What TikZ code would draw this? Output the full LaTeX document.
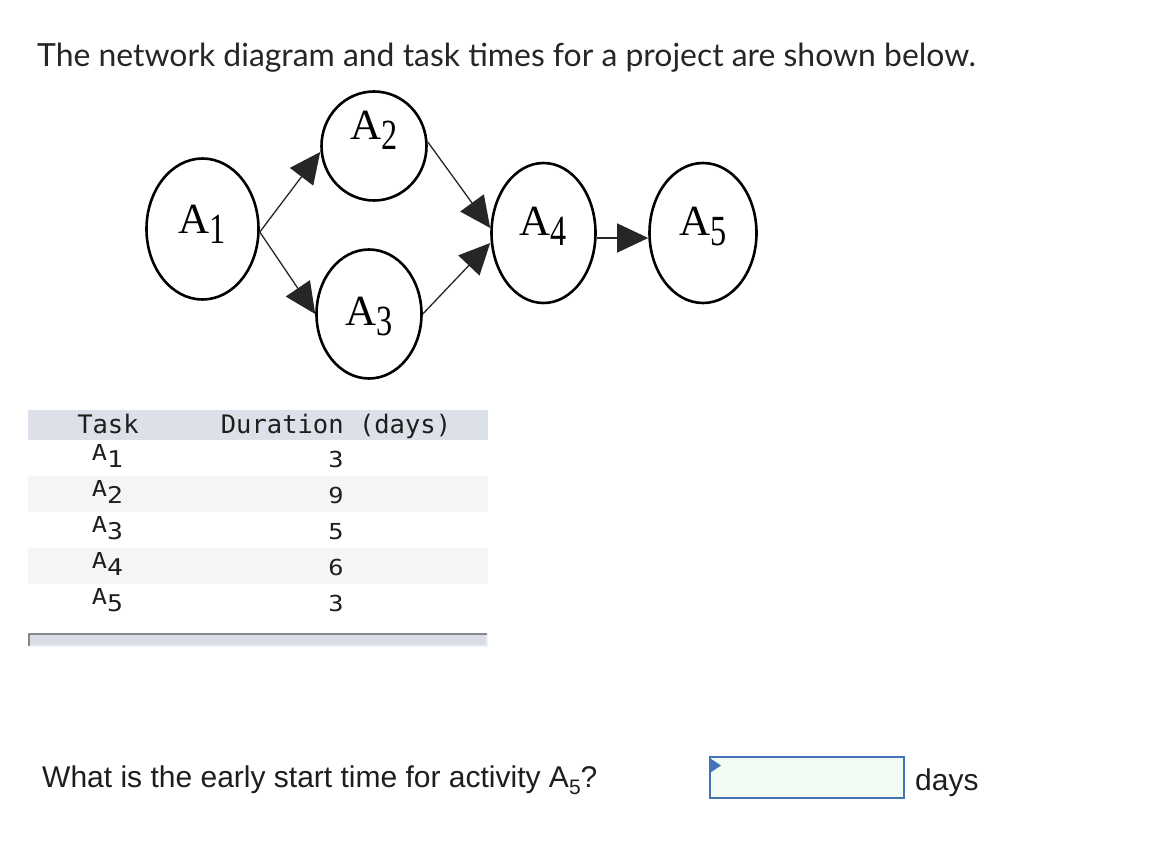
\documentclass[tikz,border=0pt]{standalone}
\usepackage{fontspec}
\usepackage{graphicx}
\setmainfont{Liberation Sans}
\newfontfamily\titlefont{Lato}
\newfontfamily\serifnode{Liberation Serif}
\newfontfamily\tabmono{DejaVu Sans Mono}
\usetikzlibrary{shapes.geometric,arrows.meta}
\definecolor{hdrband}{HTML}{DCE0E8}
\definecolor{rowband}{HTML}{F5F5F5}
\definecolor{barfill}{HTML}{D8DCE4}
\definecolor{barline}{HTML}{86888C}
\definecolor{baredge}{HTML}{ECEFFA}
\definecolor{ansblue}{HTML}{4672B9}
\definecolor{ansfill}{HTML}{F1FBF1}
\definecolor{txtdark}{HTML}{1E1E1E}
\newcommand\evsub[1]{\raisebox{-10pt}{\scalebox{0.75}[1]{#1}}}
\newcommand\tabtxt[1]{\scalebox{1.15}[1]{#1}}
\newcommand\tabsub[1]{\raisebox{-7pt}{\fontsize{23}{24}\selectfont #1}}
\tikzset{
  evt/.style={ellipse, draw=black, line width=2.6pt, inner sep=0pt,
    text height=0pt, text depth=0pt,
    font=\serifnode\fontsize{43}{43}\selectfont},
  flow/.style={draw=black!85, line width=1.3pt,
    -{Triangle[length=31pt,width=29pt]}},
  tabhead/.style={anchor=base, inner sep=0pt, text=txtdark,
    font=\tabmono\fontsize{25.5}{30}\selectfont},
  tabcell/.style={anchor=base, inner sep=0pt, text=txtdark,
    font=\tabmono\fontsize{22}{24}\selectfont},
  prose/.style={anchor=base west, inner sep=0pt, text=txtdark,
    font=\fontsize{30}{36}\selectfont},
}
\begin{document}
\begin{tikzpicture}[x=1pt,y=-1pt]
\useasboundingbox (0,0) rectangle (1154,856);
\fill[white] (0,0) rectangle (1154,856);

% title
\node[prose, font=\titlefont\fontsize{31.9}{38}\selectfont, text=black!85] (title) at (37,67)
  {The network diagram and task times for a project are shown below.};

% network
\node[evt, minimum width=112pt, minimum height=141pt] (a1) at (202.5,229) {\raisebox{-4pt}{A\evsub{1}}};
\node[evt, minimum width=105pt, minimum height=109pt] (a2) at (374,146) {\raisebox{6pt}{A\evsub{2}}};
\node[evt, minimum width=105pt, minimum height=129pt] (a3) at (369,314) {\raisebox{-11pt}{A\evsub{3}}};
\node[evt, minimum width=104pt, minimum height=140pt] (a4) at (543.5,233) {\raisebox{-2pt}{A\evsub{4}}};
\node[evt, minimum width=107pt, minimum height=140pt] (a5) at (703,233) {\raisebox{-2pt}{A\evsub{5}}};

\draw[flow] ([yshift=-3pt]a1.east) -- ([yshift=-6pt]a2.west);
\draw[flow] ([yshift=-3pt]a1.east) -- (a3.west);
\draw[flow] ([yshift=4pt]a2.east) -- ([yshift=5pt]a4.west);
\draw[flow] (a3.east) -- ([yshift=-10pt]a4.west);
\draw[flow] ([yshift=-5pt]a4.east) -- ([yshift=-5pt]a5.west);

% table
\fill[hdrband] (28,410) rectangle (488,440);
\fill[rowband] (28,476) rectangle (488,512);
\fill[rowband] (28,548) rectangle (488,584);
\node[tabhead] (th1) at (108,433) {Task};
\node[tabhead] (th2) at (336,433) {Duration (days)};
\node[tabcell] (t1) at (107.5,460) {\tabtxt{A\tabsub{1}}};
\node[tabcell] (t2) at (107.5,496) {\tabtxt{A\tabsub{2}}};
\node[tabcell] (t3) at (107.5,532) {\tabtxt{A\tabsub{3}}};
\node[tabcell] (t4) at (107.5,568) {\tabtxt{A\tabsub{4}}};
\node[tabcell] (t5) at (107.5,604) {\tabtxt{A\tabsub{5}}};
\node[tabcell] (d1) at (336,467) {\tabtxt{3}};
\node[tabcell] (d2) at (336,503) {\tabtxt{9}};
\node[tabcell] (d3) at (336,539) {\tabtxt{5}};
\node[tabcell] (d4) at (336,575) {\tabtxt{6}};
\node[tabcell] (d5) at (336,611) {\tabtxt{3}};
\fill[barfill] (29,634) rectangle (487,646);
\draw[baredge, line width=1.5pt] (30,646) -- (487,646) -- (487,634);
\draw[barline, line width=2.5pt] (29.2,646) -- (29.2,634.2) -- (487,634.2);

% question
\node[prose] (q) at (42,787)
  {What is the early start time for activity A\raisebox{-7pt}{\fontsize{21}{21}\selectfont 5}?};
\node[draw=ansblue, fill=ansfill, line width=2pt, minimum width=194pt, minimum height=41pt,
  inner sep=0pt] (box) at (807,777.5) {};
\fill[ansblue] ([yshift=-1.5pt]box.north west) -- ++(12,8) -- ++(-12,8) -- cycle;
\node[prose] (days) at (915,790) {days};
\end{tikzpicture}
\end{document}
